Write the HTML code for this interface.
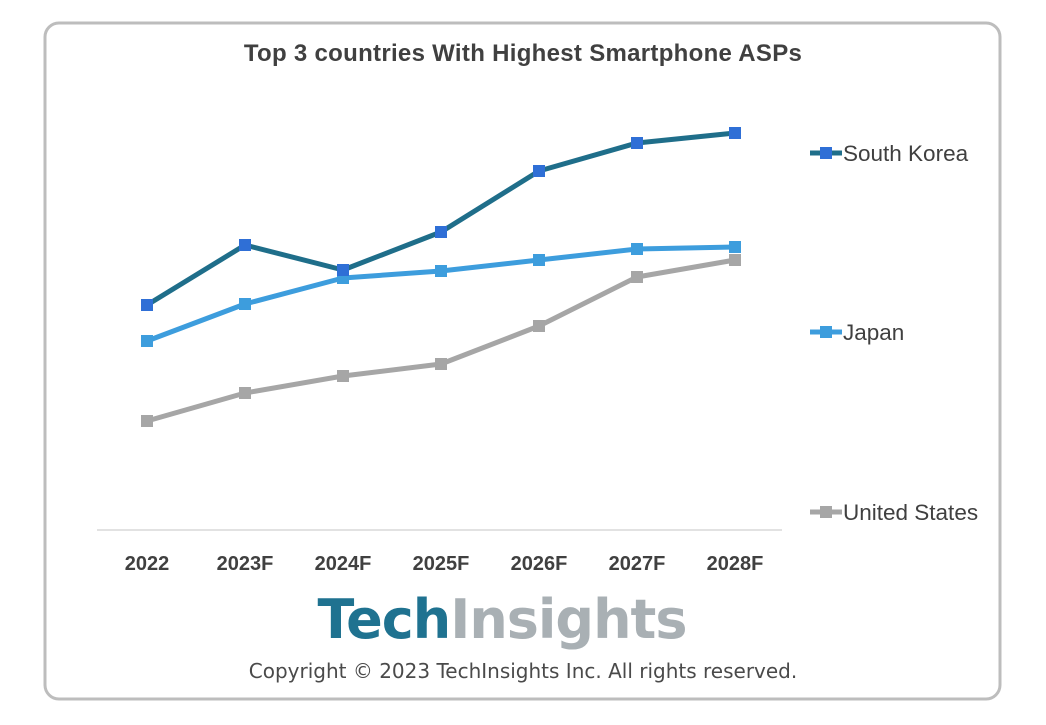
<!DOCTYPE html>
<html><head><meta charset="utf-8"><style>
body{margin:0;background:#fff;width:1046px;height:720px;overflow:hidden;font-family:"Liberation Sans",sans-serif}
</style></head><body>
<svg width="1046" height="720" xmlns="http://www.w3.org/2000/svg">
<rect x="45" y="23" width="955" height="676" rx="14" fill="#fff" stroke="#bdbdbd" stroke-width="3"/>
<text x="523" y="61" text-anchor="middle" font-family="Liberation Sans" font-weight="bold" font-size="24" letter-spacing="0.3" fill="#404040">Top 3 countries With Highest Smartphone ASPs</text>
<line x1="97" y1="530" x2="782" y2="530" stroke="#d9d9d9" stroke-width="1.5"/>
<g font-family="Liberation Sans" font-weight="bold" font-size="20" fill="#404040" text-anchor="middle">
<text x="147" y="570">2022</text><text x="245" y="570">2023F</text><text x="343" y="570">2024F</text><text x="441" y="570">2025F</text><text x="539" y="570">2026F</text><text x="637" y="570">2027F</text><text x="735" y="570">2028F</text>
</g>
<g fill="none" stroke-width="5" stroke-linejoin="round">
<polyline stroke="#a6a6a6" points="147,421 245,393 343,376 441,364 539,326 637,277 735,260"/>
<polyline stroke="#3d9ddd" points="147,341 245,304 343,278 441,271 539,260 637,249 735,247"/>
<polyline stroke="#1f6e8a" points="147,305 245,245 343,270 441,232 539,171 637,143 735,133"/>
</g>
<g fill="#a6a6a6"><rect x="141" y="415" width="12" height="12"/><rect x="239" y="387" width="12" height="12"/><rect x="337" y="370" width="12" height="12"/><rect x="435" y="358" width="12" height="12"/><rect x="533" y="320" width="12" height="12"/><rect x="631" y="271" width="12" height="12"/><rect x="729" y="254" width="12" height="12"/></g>
<g fill="#3d9ddd"><rect x="141" y="335" width="12" height="12"/><rect x="239" y="298" width="12" height="12"/><rect x="337" y="272" width="12" height="12"/><rect x="435" y="265" width="12" height="12"/><rect x="533" y="254" width="12" height="12"/><rect x="631" y="243" width="12" height="12"/><rect x="729" y="241" width="12" height="12"/></g>
<g fill="#2f6fd6"><rect x="141" y="299" width="12" height="12"/><rect x="239" y="239" width="12" height="12"/><rect x="337" y="264" width="12" height="12"/><rect x="435" y="226" width="12" height="12"/><rect x="533" y="165" width="12" height="12"/><rect x="631" y="137" width="12" height="12"/><rect x="729" y="127" width="12" height="12"/></g>
<g font-family="Liberation Sans" font-size="22.5" fill="#404040">
<line x1="810" y1="153" x2="842" y2="153" stroke="#1f6e8a" stroke-width="5"/><rect x="820" y="147" width="12" height="12" fill="#2f6fd6"/><text x="843" y="161">South Korea</text>
<line x1="810" y1="332" x2="842" y2="332" stroke="#3d9ddd" stroke-width="5"/><rect x="820" y="326" width="12" height="12" fill="#3d9ddd"/><text x="843" y="340">Japan</text>
<line x1="810" y1="512" x2="842" y2="512" stroke="#a6a6a6" stroke-width="5"/><rect x="820" y="506" width="12" height="12" fill="#a6a6a6"/><text x="843" y="520">United States</text>
</g>
<text x="502" y="638" text-anchor="middle" font-family="DejaVu Sans" font-weight="bold" font-size="54" letter-spacing="-1"><tspan fill="#1f7290">Tech</tspan><tspan fill="#a9b0b4">Insights</tspan></text>
<text x="523" y="678" text-anchor="middle" font-family="DejaVu Sans" font-size="20" fill="#4a4a4a">Copyright © 2023 TechInsights Inc.  All rights reserved.</text>
</svg>
</body></html>
